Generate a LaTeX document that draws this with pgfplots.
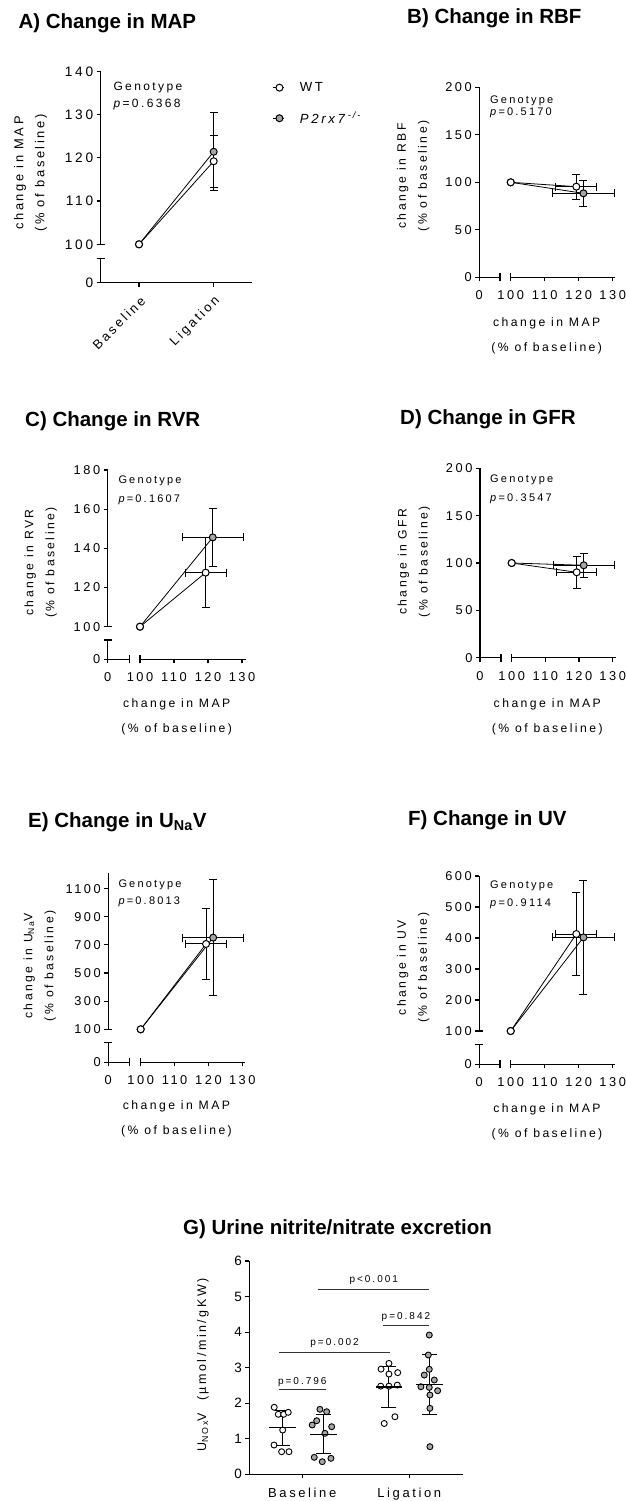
\documentclass[border=0pt]{standalone}
\usepackage{fontspec}
\setmainfont{Liberation Sans}[LetterSpace=20]
\newfontfamily\titlefont{Liberation Sans}
\usepackage{pgfplots}
\pgfplotsset{compat=1.18}

\definecolor{kogray}{RGB}{165,165,165}
\newcommand{\fs}[1]{\fontsize{#1}{#1}\selectfont}

\pgfplotsset{
  base/.style={scale only axis, clip=false, anchor=south west,
    axis lines*=left, axis line style={draw=none},
    tick align=outside, major tick length=4pt,
    tick style={black, line width=1.1pt},
    ticklabel style={font=\fs{12.8}},
    xticklabel style={yshift=-6pt}},
  wt/.style={black, line width=0.8pt, mark=*, mark size=3.5pt,
    mark options={fill=white, draw=black, line width=1pt}},
  ko/.style={black, line width=0.8pt, mark=*, mark size=3.5pt,
    mark options={fill=kogray, draw=black, line width=1pt}},
  erry/.style={forget plot, only marks, mark=none, black,
    error bars/.cd, y dir=both, y explicit,
    error bar style={line width=0.9pt},
    error mark options={rotate=90, line width=0.9pt, mark size=4pt}},
  errxy/.style={forget plot, only marks, mark=none, black,
    error bars/.cd, x dir=both, x explicit, y dir=both, y explicit,
    error bar style={line width=0.9pt},
    error mark options={rotate=90, line width=0.9pt, mark size=4pt}},
}
\tikzset{
  ax/.style={line width=1.2pt, black},
  ttl/.style={anchor=base west, inner sep=0pt, font=\titlefont\bfseries\fontsize{20.5}{24}\selectfont},
  geno/.style={anchor=base west, inner sep=0pt, font=\fs{11}},
  ylab/.style={rotate=90, align=center, inner sep=0pt, font=\fontsize{12.2}{21}\selectfont},
  xlab/.style={anchor=base, inner sep=0pt, font=\fs{12.2}},
}

\begin{document}
\begin{tikzpicture}
\path[use as bounding box] (0,0) rectangle (625pt,-1501pt);

% ---------- titles
\node[ttl] at (18.3pt,-29pt) {A) Change in MAP};
\node[ttl] at (407pt,-24pt) {B) Change in RBF};
\node[ttl] at (25pt,-426.6pt) {C) Change in RVR};
\node[ttl] at (400pt,-424pt) {D) Change in GFR};
\node[ttl] at (28pt,-827.3pt) {E) Change in U\textsubscript{Na}V};
\node[ttl] at (408pt,-825.6pt) {F) Change in UV};
\node[ttl] at (183pt,-1234pt) {G) Urine nitrite/nitrate excretion};

% ---------- A
\begin{axis}[base, at={(100.7pt,-282.7pt)}, width=151pt, height=211.4pt,
  xmin=-0.513, xmax=1.509, ymin=91.12, ymax=140,
  xtick={0,1}, xticklabels={Baseline,Ligation},
  xticklabel style={rotate=45, anchor=east, font=\fs{13}, xshift=2pt, yshift=-7pt},
  ytick={91.12,100,110,120,130,140}, yticklabels={0,100,110,120,130,140},
  yticklabel style={font=\fs{13.7}},
  legend style={at={(1.14,0.958)}, anchor=north west, draw=none, fill=none,
    inner sep=0pt, row sep=15pt, column sep=13pt, font=\fs{13.2}},
  legend cell align=left,
  legend image code/.code={\draw[mark repeat=2,mark phase=2,#1] plot coordinates {(0pt,0pt) (6pt,0pt) (11pt,0pt)};}]
\addlegendimage{wt}
\addlegendentry{WT}
\addlegendimage{ko}
\addlegendentry{\textit{P2rx7}\textsuperscript{\textit{-/-}}}
\draw[ax] (axis cs:1.509,91.12) -- (axis cs:-0.513,91.12) -- (axis cs:-0.513,96.7);
\draw[ax] (axis cs:-0.513,100) -- (axis cs:-0.513,140);
\draw[ax] ([xshift=-4pt]axis cs:-0.513,96.7) -- ([xshift=4pt]axis cs:-0.513,96.7);
\draw[ax] ([xshift=-4pt]axis cs:-0.513,100) -- ([xshift=4pt]axis cs:-0.513,100);
\addplot[erry] coordinates {(1,121.4) +- (0,9)};
\addplot[erry] coordinates {(1,119.2) +- (0,6)};
\addplot[ko, forget plot] coordinates {(0,100) (1,121.4)};
\addplot[wt, forget plot] coordinates {(0,100) (1,119.2)};
\end{axis}
\node[geno, font=\fs{12}] at (113.3pt,-90.3pt) {Genotype};
\node[geno, font=\fs{12}] at (113.3pt,-107.6pt) {\textit{p}=0.6368};
\node[ylab, font=\fontsize{12.9}{21}\selectfont] at (30.5pt,-173pt) {change in MAP\\(\% of baseline)};

% ---------- B
\begin{axis}[base, at={(479.3pt,-277.3pt)}, width=135.7pt, height=190pt,
  xmin=90.76, xmax=130.68, ymin=0, ymax=200,
  xtick={90.76,100,110,120,130}, xticklabels={0,100,110,120,130},
  ytick={0,50,100,150,200}, yticklabels={0,50,100,150,200}]
\draw[ax] (axis cs:96.85,0) -- (axis cs:90.76,0) -- (axis cs:90.76,200);
\draw[ax] (axis cs:100,0) -- (axis cs:130.68,0);
\draw[ax] ([yshift=-4pt]axis cs:96.85,0) -- ([yshift=4pt]axis cs:96.85,0);
\draw[ax] ([yshift=-4pt]axis cs:100,0) -- ([yshift=4pt]axis cs:100,0);
\addplot[errxy] coordinates {(121.4,88.4) +- (9,14)};
\addplot[errxy] coordinates {(119.3,95.4) +- (6,13)};
\addplot[ko] coordinates {(100,100) (121.4,88.4)};
\addplot[wt] coordinates {(100,100) (119.3,95.4)};
\end{axis}
\node[geno] at (490pt,-103.2pt) {Genotype};
\node[geno] at (490pt,-115.5pt) {\textit{p}=0.5170};
\node[ylab] at (413.3pt,-176pt) {change in RBF\\(\% of baseline)};
\node[xlab] at (546.7pt,-326.1pt) {change in MAP};
\node[xlab] at (546.7pt,-351.1pt) {(\% of baseline)};

% ---------- C
\begin{axis}[base, at={(107.7pt,-659.3pt)}, width=138pt, height=189.3pt,
  xmin=90.5, xmax=131.09, ymin=83.35, ymax=180,
  xtick={90.5,100,110,120,130}, xticklabels={0,100,110,120,130},
  ytick={83.35,100,120,140,160,180}, yticklabels={0,100,120,140,160,180}]
\draw[ax] (axis cs:96.85,83.35) -- (axis cs:90.5,83.35) -- (axis cs:90.5,93.2);
\draw[ax] (axis cs:100,83.35) -- (axis cs:131.09,83.35);
\draw[ax] (axis cs:90.5,100) -- (axis cs:90.5,180);
\draw[ax] ([yshift=-4pt]axis cs:96.85,83.35) -- ([yshift=4pt]axis cs:96.85,83.35);
\draw[ax] ([yshift=-4pt]axis cs:100,83.35) -- ([yshift=4pt]axis cs:100,83.35);
\draw[ax] ([xshift=-4pt]axis cs:90.5,93.2) -- ([xshift=4pt]axis cs:90.5,93.2);
\draw[ax] ([xshift=-4pt]axis cs:90.5,100) -- ([xshift=4pt]axis cs:90.5,100);
\addplot[errxy] coordinates {(121.4,145.6) +- (9,15)};
\addplot[errxy] coordinates {(119.3,127.6) +- (6,18)};
\addplot[ko] coordinates {(100,100) (121.4,145.6)};
\addplot[wt] coordinates {(100,100) (119.3,127.6)};
\end{axis}
\node[geno] at (118.3pt,-483.9pt) {Genotype};
\node[geno] at (118.3pt,-502.2pt) {\textit{p}=0.1607};
\node[ylab] at (40.8pt,-562.5pt) {change in RVR\\(\% of baseline)};
\node[xlab] at (176.7pt,-707.7pt) {change in MAP};
\node[xlab] at (176.7pt,-732.7pt) {(\% of baseline)};

% ---------- D
\begin{axis}[base, at={(480pt,-657.7pt)}, width=136pt, height=189.4pt,
  xmin=90.59, xmax=130.98, ymin=0, ymax=200,
  xtick={90.59,100,110,120,130}, xticklabels={0,100,110,120,130},
  ytick={0,50,100,150,200}, yticklabels={0,50,100,150,200}]
\draw[ax] (axis cs:96.82,0) -- (axis cs:90.59,0) -- (axis cs:90.59,200);
\draw[ax] (axis cs:100,0) -- (axis cs:130.98,0);
\draw[ax] ([yshift=-4pt]axis cs:96.82,0) -- ([yshift=4pt]axis cs:96.82,0);
\draw[ax] ([yshift=-4pt]axis cs:100,0) -- ([yshift=4pt]axis cs:100,0);
\addplot[errxy] coordinates {(121.4,97.6) +- (9,12.5)};
\addplot[errxy] coordinates {(119.3,90.2) +- (6,17)};
\addplot[ko] coordinates {(100,100) (121.4,97.6)};
\addplot[wt] coordinates {(100,100) (119.3,90.2)};
\end{axis}
\node[geno] at (490pt,-482.9pt) {Genotype};
\node[geno] at (490pt,-501.2pt) {\textit{p}=0.3547};
\node[ylab] at (414pt,-561.7pt) {change in GFR\\(\% of baseline)};
\node[xlab] at (547.3pt,-707.7pt) {change in MAP};
\node[xlab] at (547.3pt,-732.7pt) {(\% of baseline)};

% ---------- E
\begin{axis}[base, at={(108.3pt,-1062.3pt)}, width=136.7pt, height=189.6pt,
  xmin=90.43, xmax=130.8, ymin=-134.7, ymax=1213,
  xtick={90.43,100,110,120,130}, xticklabels={0,100,110,120,130},
  ytick={-134.7,100,300,500,700,900,1100}, yticklabels={0,100,300,500,700,900,1100}]
\draw[ax] (axis cs:96.63,-134.7) -- (axis cs:90.43,-134.7) -- (axis cs:90.43,7.5);
\draw[ax] (axis cs:100,-134.7) -- (axis cs:130.8,-134.7);
\draw[ax] (axis cs:90.43,100) -- (axis cs:90.43,1213);
\draw[ax] ([yshift=-4pt]axis cs:96.63,-134.7) -- ([yshift=4pt]axis cs:96.63,-134.7);
\draw[ax] ([yshift=-4pt]axis cs:100,-134.7) -- ([yshift=4pt]axis cs:100,-134.7);
\draw[ax] ([xshift=-4pt]axis cs:90.43,7.5) -- ([xshift=4pt]axis cs:90.43,7.5);
\draw[ax] ([xshift=-4pt]axis cs:90.43,100) -- ([xshift=4pt]axis cs:90.43,100);
\addplot[errxy] coordinates {(121.4,751.6) +- (9,411)};
\addplot[errxy] coordinates {(119.3,706.7) +- (6,250)};
\addplot[ko] coordinates {(100,100) (121.4,751.6)};
\addplot[wt] coordinates {(100,100) (119.3,706.7)};
\end{axis}
\node[geno] at (118.3pt,-887.2pt) {Genotype};
\node[geno] at (118.3pt,-904.6pt) {\textit{p}=0.8013};
\node[ylab] at (39.7pt,-965.8pt) {change in U\textsubscript{Na}V\\(\% of baseline)};
\node[xlab] at (176.5pt,-1109.4pt) {change in MAP};
\node[xlab] at (176.5pt,-1134.4pt) {(\% of baseline)};

% ---------- F
\begin{axis}[base, at={(479.3pt,-1064.3pt)}, width=135.7pt, height=188.3pt,
  xmin=90.76, xmax=130.68, ymin=-7.4, ymax=600,
  xtick={90.76,100,110,120,130}, xticklabels={0,100,110,120,130},
  ytick={-7.4,100,200,300,400,500,600}, yticklabels={0,100,200,300,400,500,600}]
\draw[ax] (axis cs:96.85,-7.4) -- (axis cs:90.76,-7.4) -- (axis cs:90.76,57.1);
\draw[ax] (axis cs:100,-7.4) -- (axis cs:130.68,-7.4);
\draw[ax] (axis cs:90.76,100) -- (axis cs:90.76,600);
\draw[ax] ([yshift=-4pt]axis cs:96.85,-7.4) -- ([yshift=4pt]axis cs:96.85,-7.4);
\draw[ax] ([yshift=-4pt]axis cs:100,-7.4) -- ([yshift=4pt]axis cs:100,-7.4);
\draw[ax] ([xshift=-4pt]axis cs:90.76,57.1) -- ([xshift=4pt]axis cs:90.76,57.1);
\draw[ax] ([xshift=-4pt]axis cs:90.76,100) -- ([xshift=4pt]axis cs:90.76,100);
\addplot[errxy] coordinates {(121.4,402) +- (9,184)};
\addplot[errxy] coordinates {(119.3,412.9) +- (6,133)};
\addplot[ko] coordinates {(100,100) (121.4,402)};
\addplot[wt] coordinates {(100,100) (119.3,412.9)};
\end{axis}
\node[geno] at (490pt,-888.9pt) {Genotype};
\node[geno] at (490pt,-906.6pt) {\textit{p}=0.9114};
\node[ylab] at (413.3pt,-967.5pt) {change in UV\\(\% of baseline)};
\node[xlab] at (547pt,-1112.7pt) {change in MAP};
\node[xlab] at (547pt,-1137.7pt) {(\% of baseline)};

% ---------- G
\begin{axis}[base, at={(249.3pt,-1474.3pt)}, width=214pt, height=213.3pt,
  axis line style={draw=black, line width=1.2pt},
  xmin=0.505, xmax=2.505, ymin=0, ymax=6,
  xtick={1,2}, xticklabels={Baseline,Ligation},
  xticklabel style={font=\fs{13}},
  ytick={0,1,2,3,4,5,6}, yticklabels={0,1,2,3,4,5,6},
  yticklabel style={font=\fs{13.5}}]
\addplot[only marks, mark=*, mark size=3pt, mark options={fill=white, draw=black, line width=0.9pt}]
  coordinates {(0.738,1.885) (0.776,1.688) (0.826,1.688) (0.869,1.744) (0.817,1.246)
               (0.736,0.824) (0.807,0.636) (0.876,0.636)
               (1.810,3.12) (1.736,2.96) (1.892,2.86) (1.810,2.82) (1.733,2.48)
               (1.810,2.48) (1.888,2.51) (1.866,1.62) (1.766,1.43)};
\addplot[only marks, mark=*, mark size=3pt, mark options={fill=kogray, draw=black, line width=0.9pt}]
  coordinates {(1.165,1.828) (1.228,1.761) (1.135,1.508) (1.093,1.387) (1.275,1.339)
               (1.212,1.153) (1.112,0.478) (1.187,0.355) (1.268,0.45)
               (2.187,3.918) (2.178,3.356) (2.187,2.954) (2.140,2.793) (2.234,2.653)
               (2.109,2.464) (2.187,2.445) (2.265,2.352) (2.193,2.231) (2.193,1.857) (2.193,0.777)};
\addplot[only marks, mark=-, mark size=13.3pt, mark options={line width=1.1pt}, black,
  error bars/.cd, y dir=both, y explicit, error bar style={line width=1pt},
  error mark options={rotate=90, line width=1pt, mark size=7.5pt}]
  coordinates {(0.813,1.31) +- (0,0.49) (1.196,1.13) +- (0,0.55)
               (1.810,2.455) +- (0,0.575) (2.187,2.525) +- (0,0.855)};
\draw[line width=1pt, black!80] (axis cs:0.782,2.39) -- (axis cs:1.219,2.39);
\draw[line width=1pt, black!80] (axis cs:0.785,3.44) -- (axis cs:1.820,3.44);
\draw[line width=1pt, black!80] (axis cs:1.751,4.18) -- (axis cs:2.187,4.18);
\draw[line width=1pt, black!80] (axis cs:1.150,5.20) -- (axis cs:2.187,5.20);
\node[font=\fs{10}, inner sep=0pt] at (axis cs:1.0,2.605) {p=0.796};
\node[font=\fs{10}, inner sep=0pt] at (axis cs:1.302,3.685) {p=0.002};
\node[font=\fs{10}, inner sep=0pt] at (axis cs:1.969,4.416) {p=0.842};
\node[font=\fs{10}, inner sep=0pt] at (axis cs:1.668,5.466) {p<0.001};
\end{axis}
\node[rotate=90, inner sep=0pt, font=\fs{12.5}] at (203pt,-1365pt) {U\textsubscript{NOx}V\ \ (µmol/min/gKW)};

\end{tikzpicture}
\end{document}
